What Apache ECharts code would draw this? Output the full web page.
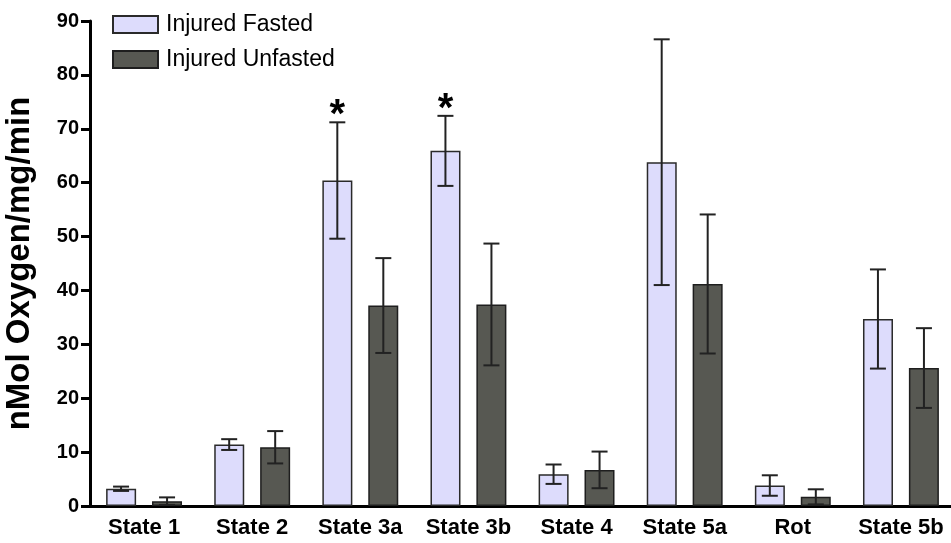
<!DOCTYPE html>
<html><head><meta charset="utf-8">
<script src="https://cdn.jsdelivr.net/npm/echarts@6/dist/echarts.min.js"></script>
<style>html,body{margin:0;padding:0;background:#fff}#c{width:951px;height:543px}</style>
</head><body><div id="c"></div>
<script>
const categories = ['State 1','State 2','State 3a','State 3b','State 4','State 5a','Rot','State 5b'];
const fastedMean = [3.2, 11.4, 60.4, 65.9, 5.9, 63.8, 3.8, 34.7];
const fastedErr  = [0.4, 1.0, 10.8, 6.5, 1.8, 22.8, 1.9, 9.2];
const unfastedMean = [0.9, 10.9, 37.2, 37.4, 6.7, 41.2, 1.7, 25.6];
const unfastedErr  = [0.7, 3.0, 8.8, 11.3, 3.4, 12.9, 1.4, 7.4];
const fastedStar = [false, false, true, true, false, false, false, false];
const yTicks = [0,10,20,30,40,50,60,70,80,90];

const FONT = 'Liberation Sans, Arial, sans-serif';
const chart = echarts.init(document.getElementById('c'));
const BAR_W = 30, HALF_SEP = 23;

function errSeries(name, means, errs, side, stars) {
  return {
    type: 'custom', name: name + ' err', silent: true, z: 10,
    data: means.map((m, i) => [i, m, errs[i], stars ? (stars[i] ? 1 : 0) : 0]),
    renderItem: function (params, api) {
      const i = api.value(0), m = api.value(1), e = api.value(2), st = api.value(3);
      const top = api.coord([i, m + e]);
      const bot = api.coord([i, m - e]);
      const x = top[0] + side * HALF_SEP;
      const cap = 8;
      const st_ = { stroke: '#222', lineWidth: 2 };
      const children = [
        { type: 'line', shape: { x1: x, y1: top[1], x2: x, y2: bot[1] }, style: st_ },
        { type: 'line', shape: { x1: x - cap, y1: top[1], x2: x + cap, y2: top[1] }, style: st_ },
        { type: 'line', shape: { x1: x - cap, y1: bot[1], x2: x + cap, y2: bot[1] }, style: st_ }
      ];
      if (st) {
        children.push({ type: 'text', style: { text: '*', x: x, y: top[1] + 14, align: 'center', verticalAlign: 'bottom', font: 'bold 40px ' + FONT, fill: '#000' } });
      }
      return { type: 'group', children: children };
    }
  };
}

chart.setOption({
  animation: false,
  backgroundColor: '#fff',
  legend: {
    orient: 'vertical', left: 112, top: 13, padding: 0, itemWidth: 45, itemHeight: 17, itemGap: 12,
    icon: 'rect',
    data: ['Injured Fasted', 'Injured Unfasted'],
    textStyle: { fontFamily: FONT, fontSize: 23, color: '#000', padding: [0, 0, 0, 3] }
  },
  grid: { left: 90, top: 21, bottom: 37, width: 865, outerBoundsMode: 'none', containLabel: false },
  xAxis: {
    type: 'category', data: categories,
    axisLine: { lineStyle: { color: '#000', width: 3 } },
    axisTick: { alignWithLabel: true, length: 8, lineStyle: { color: '#000', width: 3 } },
    axisLabel: { fontFamily: FONT, fontWeight: 'bold', fontSize: 22, color: '#000', margin: 11, interval: 0 }
  },
  yAxis: {
    type: 'value', min: 0, max: 90, interval: 10,
    name: 'nMol Oxygen/mg/min', nameLocation: 'middle', nameGap: 54, nameRotate: 90,
    nameTextStyle: { fontFamily: FONT, fontWeight: 'bold', fontSize: 33, color: '#000' },
    axisLine: { show: true, lineStyle: { color: '#000', width: 3 } },
    axisTick: { show: true, length: 9, lineStyle: { color: '#000', width: 3 } },
    splitLine: { show: false },
    axisLabel: { fontFamily: FONT, fontWeight: 'bold', fontSize: 20, color: '#000', margin: 11,
      formatter: v => yTicks.includes(v) ? String(v) : '' }
  },
  series: [
    { name: 'Injured Fasted', type: 'bar', data: fastedMean, barWidth: BAR_W, barGap: '53%',
      itemStyle: { color: '#dddcfc', borderColor: '#2a2a2a', borderWidth: 1.5 } },
    { name: 'Injured Unfasted', type: 'bar', data: unfastedMean, barWidth: BAR_W,
      itemStyle: { color: '#575852', borderColor: '#1e1e1e', borderWidth: 1.5 } },
    errSeries('Injured Fasted', fastedMean, fastedErr, -1, fastedStar),
    errSeries('Injured Unfasted', unfastedMean, unfastedErr, 1, null)
  ]
});
</script></body></html>
